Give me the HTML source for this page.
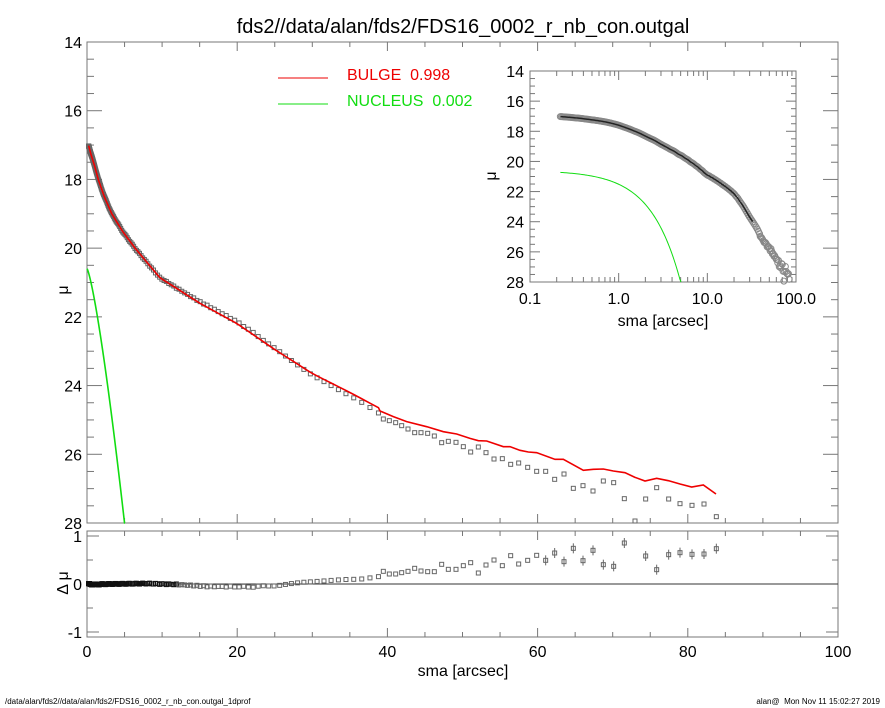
<!DOCTYPE html>
<html><head><meta charset="utf-8"><style>
html,body{margin:0;padding:0;background:#fff}
svg{display:block;font-family:"Liberation Sans",sans-serif}
</style></head><body>
<svg id="s" width="885" height="708" xmlns="http://www.w3.org/2000/svg">
<text x="463" y="33" font-size="20" text-anchor="middle">fds2//data/alan/fds2/FDS16_0002_r_nb_con.outgal</text>
<text x="5" y="704" font-size="8">/data/alan/fds2//data/alan/fds2/FDS16_0002_r_nb_con.outgal_1dprof</text>
<text x="880" y="704" font-size="8" text-anchor="end">alan@&#160; Mon Nov 11 15:02:27 2019</text>
<text x="463" y="676" font-size="16" text-anchor="middle">sma [arcsec]</text>
<text x="68" y="290" font-size="16" text-anchor="middle" transform="rotate(-90 68 290)">μ</text>
<text x="68" y="583" font-size="16" text-anchor="middle" transform="rotate(-90 68 583)">Δ μ</text>
<line x1="278" y1="78" x2="328" y2="78" stroke="#e00" stroke-width="1"/>
<text x="347" y="80" font-size="16" fill="#e00">BULGE&#160; 0.998</text>
<line x1="278" y1="104" x2="328" y2="104" stroke="#1d1" stroke-width="1"/>
<text x="347" y="106" font-size="16" fill="#1d1">NUCLEUS&#160; 0.002</text>
<g id="g"></g>
</svg>
<script>
var g=document.getElementById('g'),NS="http://www.w3.org/2000/svg";
function el(t,a,txt){var e=document.createElementNS(NS,t);for(var k in a)e.setAttribute(k,a[k]);if(txt!=null)e.textContent=txt;g.appendChild(e);return e;}
var X0=87,X1=838,Y0=42,Y1=523;
function mx(r){return X0+r*(X1-X0)/100;}
function my(m){return Y0+(m-14)*(Y1-Y0)/14;}
var RY0=531,RY1=637;function ry(d){return 584-d*48;}
function interp(a,r){if(r<=a[0][0])return a[0][1];for(var i=1;i<a.length;i++){if(r<=a[i][0]){var t=(r-a[i-1][0])/(a[i][0]-a[i-1][0]);return a[i-1][1]+t*(a[i][1]-a[i-1][1]);}}return a[a.length-1][1];}
var model=[[0.2,17.0],[0.5,17.25],[1,17.6],[1.5,18.0],[2.3,18.5],[3.3,19.0],[4.7,19.5],[6.4,20.0],[9.7,20.86],[15,21.6],[20,22.2],[25,22.95],[30,23.65],[35,24.2],[39.3,24.7]];
var resA=[[0,0],[1,-0.01],[3,0],[8,0.01],[12,-0.01],[16,-0.05],[22,-0.06],[26,-0.02],[29,0.03],[33,0.07],[37,0.12],[39.3,0.15]];
var big=[[10,117,574],[28,122,582],[47,128,582],[65,137,578],[84,147,574],[104,158,565],[123,158,573],[143,160,575],[163,168,575],[185,188,553],[205,184,568],[228,187,568],[250,200,557],[272,216,548],[295,201,579],[318,218,555],[342,237,540],[367,236,557],[392,253,527],[416,249,552],[443,262,541],[470,274,526],[497,274,541],[524,298,519],[552,282,545],[580,325,505],[609,317,542],[639,333,511],[670,303,554],[701,308,559],[733,356,489],[765,423,null],[797,357,528],[830,323,569],[866,357,524],[900,371,518],[936,376,523],[972,372,522],[1009,410,506]];
var redZ=[[0,93],[40,110],[80,125],[140,140],[190,155],[230,162],[270,175],[295,182],[320,183],[370,200],[390,200],[420,211],[445,216],[470,218],[525,238],[550,238],[610,271],[640,268],[670,267],[700,273],[735,278],[765,292],[795,303],[830,295],[865,302],[900,312],[935,321],[970,315],[1008,342]];
var pts=[];
for(var r=0.22;r<39;r*=1.03){var m=interp(model,r),d=interp(resA,r)+0.01*Math.sin(r*7);pts.push([r,m+d,d]);}
big.forEach(function(p){var px=380+p[0]/3,py=380+p[1]/3;var rr=(px-X0)*100/(X1-X0);var mu=14+(py-Y0)*14/(Y1-Y0);pts.push([rr,mu,p[2]==null?null:(584-(380+p[2]/3))/48]);});
el('rect',{x:X0,y:Y0,width:X1-X0,height:Y1-Y0,fill:'none',stroke:'#777','stroke-width':1});
el('rect',{x:X0,y:RY0,width:X1-X0,height:RY1-RY0,fill:'none',stroke:'#777','stroke-width':1});
for(var v=0;v<=100;v+=5){var x=mx(v),L=v%20==0?9:5;
 el('line',{x1:x,y1:Y1,x2:x,y2:Y1-L,stroke:'#777'});el('line',{x1:x,y1:Y0,x2:x,y2:Y0+L,stroke:'#777'});
 el('line',{x1:x,y1:RY1,x2:x,y2:RY1-L,stroke:'#777'});el('line',{x1:x,y1:RY0,x2:x,y2:RY0+L,stroke:'#777'});
 if(v%20==0)el('text',{x:x,y:657,'font-size':16,'text-anchor':'middle'},v);}
for(var m=14;m<=28;m+=0.5){var y=my(m),L=(m%2==0)?15:7;el('line',{x1:X0,y1:y,x2:X0+L,y2:y,stroke:'#777'});el('line',{x1:X1,y1:y,x2:X1-L,y2:y,stroke:'#777'});
 if(m%2==0)el('text',{x:82,y:y+6,'font-size':16,'text-anchor':'end'},m);}
[[1,'1'],[0,'0'],[-1,'-1']].forEach(function(t){var y=ry(t[0]);el('line',{x1:X0,y1:y,x2:X0+12,y2:y,stroke:'#777'});el('line',{x1:X1,y1:y,x2:X1-12,y2:y,stroke:'#777'});el('text',{x:82,y:y+6,'font-size':16,'text-anchor':'end'},t[1]);});
for(var d=-1;d<=1;d+=0.5){if(d%1==0)continue;var y=ry(d);el('line',{x1:X0,y1:y,x2:X0+6,y2:y,stroke:'#777'});el('line',{x1:X1,y1:y,x2:X1-6,y2:y,stroke:'#777'});}
el('line',{x1:X0,y1:ry(0),x2:X1,y2:ry(0),stroke:'#333'});
pts.forEach(function(p){var x=mx(p[0]),y=my(p[1]);if(y<=Y1+2)el('rect',{x:x-2,y:y-2,width:4,height:4,fill:'none',stroke:'#666','stroke-width':1});
 if(p[2]!=null){var yy=ry(p[2]);var dark=p[0]<12?'#111':'#666';el('rect',{x:x-2,y:yy-2,width:4,height:4,fill:'none',stroke:dark,'stroke-width':1});if(p[0]>60)el('line',{x1:x,y1:yy-5,x2:x,y2:yy+5,stroke:'#666'});}});
var rp=[];for(var r=0.22;r<39;r*=1.03)rp.push(mx(r)+','+my(interp(model,r)));
redZ.forEach(function(p){rp.push((380+p[0]/3)+','+(380+p[1]/3));});
el('polyline',{points:rp.join(' '),fill:'none',stroke:'#e00','stroke-width':1.6});
function nuc(r){return 20.6+0.914*Math.pow(r,1.3);}
var gp=[];for(var r=0;r<=5.05;r+=0.05)gp.push(mx(r)+','+my(Math.min(nuc(r),28)));
el('polyline',{points:gp.join(' '),fill:'none',stroke:'#1d1','stroke-width':1.6});
var IX0=530,IX1=796,IY0=71,IY1=282;
function ix(r){return IX0+(Math.log10(r)+1)*(IX1-IX0)/3;}
function iy(m){return IY0+(m-14)*(IY1-IY0)/14;}
el('rect',{x:IX0,y:IY0,width:IX1-IX0,height:IY1-IY0,fill:'none',stroke:'#777'});
[0.1,1,10,100].forEach(function(d,i){var lab=['0.1','1.0','10.0','100.0'][i];el('text',{x:ix(d),y:304,'font-size':16,'text-anchor':'middle'},lab);
 for(var k=1;k<10&&d*k<=100;k++){var x=ix(d*k),L=k==1?9:5;el('line',{x1:x,y1:IY1,x2:x,y2:IY1-L,stroke:'#777'});el('line',{x1:x,y1:IY0,x2:x,y2:IY0+L,stroke:'#777'});}});
for(var m=14;m<=28;m+=0.5){var y=iy(m),L=(m%2==0)?10:5;el('line',{x1:IX0,y1:y,x2:IX0+L,y2:y,stroke:'#777'});el('line',{x1:IX1,y1:y,x2:IX1-L,y2:y,stroke:'#777'});
 if(m%2==0)el('text',{x:524,y:y+6,'font-size':16,'text-anchor':'end'},m);}
el('text',{x:663,y:326,'font-size':16,'text-anchor':'middle'},'sma [arcsec]');
el('text',{x:496,y:176,'font-size':16,'text-anchor':'middle',transform:'rotate(-90 496 176)'},'μ');
var ip=[];pts.forEach(function(p){var y=iy(p[1]);if(y<=IY1+1){el('circle',{cx:ix(p[0]),cy:y,r:3,fill:'none',stroke:'#888','stroke-width':1});ip.push(ix(p[0])+','+y);}});
el('polyline',{points:ip.slice(0,170).join(' '),fill:'none',stroke:'#222','stroke-width':1.5});
var ng=[];for(var r=0.22;r<=5.1;r*=1.03)ng.push(ix(r)+','+iy(Math.min(nuc(r),28)));
el('polyline',{points:ng.join(' '),fill:'none',stroke:'#1d1','stroke-width':1});
</script>
</body></html>
